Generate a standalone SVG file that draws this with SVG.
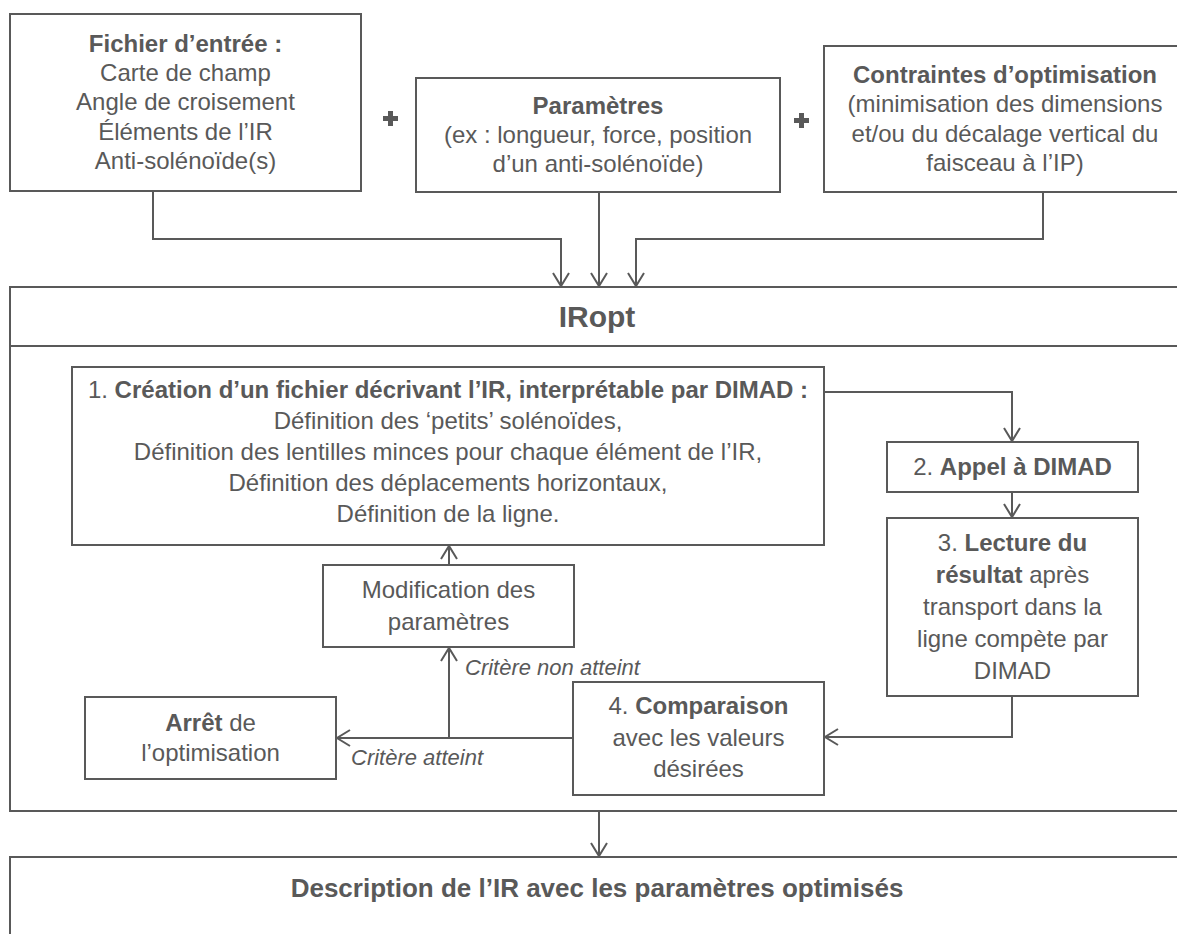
<svg xmlns="http://www.w3.org/2000/svg" width="1177" height="934" viewBox="0 0 1177 934">
<style>
  text { font-family: "Liberation Sans", Arial, sans-serif; fill: #595959; font-size: 24px; text-anchor: middle; }
  .b { font-weight: bold; }
  .it { font-style: italic; font-size: 22px; text-anchor: start; }
  .box { fill: #ffffff; stroke: #595959; stroke-width: 2; }
  .con { fill: none; stroke: #595959; stroke-width: 2; }
  .plus { fill: #595959; }
</style>
<defs>
  <marker id="arr" markerUnits="userSpaceOnUse" markerWidth="20" markerHeight="20" viewBox="-1 -10 16 20" refX="13" refY="0" orient="auto">
    <path d="M0,-8 L13,0 L0,8" fill="none" stroke="#595959" stroke-width="2"/>
  </marker>
</defs>
<rect width="1177" height="934" fill="#ffffff"/>

<g id="plus1"><rect class="plus" x="383" y="116" width="15" height="5"/><rect class="plus" x="388" y="111" width="5" height="15"/></g>
<g id="plus2"><rect class="plus" x="794" y="118" width="15" height="5"/><rect class="plus" x="799" y="113" width="5" height="15"/></g>

<g id="fichier">
  <rect class="box" x="10" y="14" width="351" height="177"/>
  <text x="185.5" y="52" class="b">Fichier d’entrée :</text>
  <text x="185.5" y="81">Carte de champ</text>
  <text x="185.5" y="110">Angle de croisement</text>
  <text x="185.5" y="140">Éléments de l’IR</text>
  <text x="185.5" y="169">Anti-solénoïde(s)</text>
</g>

<g id="parametres">
  <rect class="box" x="416" y="78" width="364" height="114"/>
  <text x="598" y="114" class="b">Paramètres</text>
  <text x="598" y="143">(ex : longueur, force, position</text>
  <text x="598" y="172">d’un anti-solénoïde)</text>
</g>

<g id="contraintes">
  <rect class="box" x="824" y="46" width="370" height="146"/>
  <text x="1005" y="83" class="b">Contraintes d’optimisation</text>
  <text x="1005" y="112">(minimisation des dimensions</text>
  <text x="1005" y="142">et/ou du décalage vertical du</text>
  <text x="1005" y="171">faisceau à l’IP)</text>
</g>

<g id="iropt">
  <rect class="box" x="10" y="287" width="1190" height="524"/>
  <line class="con" x1="10" y1="346" x2="1200" y2="346"/>
  <text x="597" y="327" class="b" style="font-size:30px">IRopt</text>
</g>

<g id="creation">
  <rect class="box" x="72" y="367" width="752" height="178"/>
  <text x="448" y="398">1. <tspan class="b">Création d’un fichier décrivant l’IR, interprétable par DIMAD :</tspan></text>
  <text x="448" y="429">Définition des ‘petits’ solénoïdes,</text>
  <text x="448" y="460">Définition des lentilles minces pour chaque élément de l’IR,</text>
  <text x="448" y="491">Définition des déplacements horizontaux,</text>
  <text x="448" y="522">Définition de la ligne.</text>
</g>

<g id="appel">
  <rect class="box" x="887" y="442" width="251" height="50"/>
  <text x="1012.5" y="475">2. <tspan class="b">Appel à DIMAD</tspan></text>
</g>

<g id="lecture">
  <rect class="box" x="887" y="518" width="251" height="178"/>
  <text x="1012.5" y="551">3. <tspan class="b">Lecture du</tspan></text>
  <text x="1012.5" y="583"><tspan class="b">résultat</tspan> après</text>
  <text x="1012.5" y="615">transport dans la</text>
  <text x="1012.5" y="647">ligne compète par</text>
  <text x="1012.5" y="679">DIMAD</text>
</g>

<g id="comparaison">
  <rect class="box" x="573" y="682" width="251" height="113"/>
  <text x="698.5" y="714">4. <tspan class="b">Comparaison</tspan></text>
  <text x="698.5" y="746">avec les valeurs</text>
  <text x="698.5" y="777">désirées</text>
</g>

<g id="modification">
  <rect class="box" x="323" y="565" width="251" height="82"/>
  <text x="448.5" y="598">Modification des</text>
  <text x="448.5" y="630">paramètres</text>
</g>

<g id="arret">
  <rect class="box" x="85" y="697" width="251" height="82"/>
  <text x="210.5" y="731"><tspan class="b">Arrêt</tspan> de</text>
  <text x="210.5" y="761">l’optimisation</text>
</g>

<g id="labels">
  <text x="465" y="675" class="it">Critère non atteint</text>
  <text x="351" y="765" class="it">Critère atteint</text>
</g>

<g id="description">
  <rect class="box" x="10" y="857" width="1190" height="100"/>
  <text x="597" y="897" class="b" style="font-size:26px">Description de l’IR avec les paramètres optimisés</text>
</g>

<g id="connectors">
  <path class="con" d="M153,191 V239 H561 V286" marker-end="url(#arr)"/>
  <path class="con" d="M599,192 V286" marker-end="url(#arr)"/>
  <path class="con" d="M1043,192 V239 H636 V286" marker-end="url(#arr)"/>
  <path class="con" d="M824,392 H1012 V441" marker-end="url(#arr)"/>
  <path class="con" d="M1012,492 V517" marker-end="url(#arr)"/>
  <path class="con" d="M1012,696 V737 H825" marker-end="url(#arr)"/>
  <path class="con" d="M573,738 H337" marker-end="url(#arr)"/>
  <path class="con" d="M449,738 V648" marker-end="url(#arr)"/>
  <path class="con" d="M449,565 V546" marker-end="url(#arr)"/>
  <path class="con" d="M599,811 V856" marker-end="url(#arr)"/>
</g>
</svg>
